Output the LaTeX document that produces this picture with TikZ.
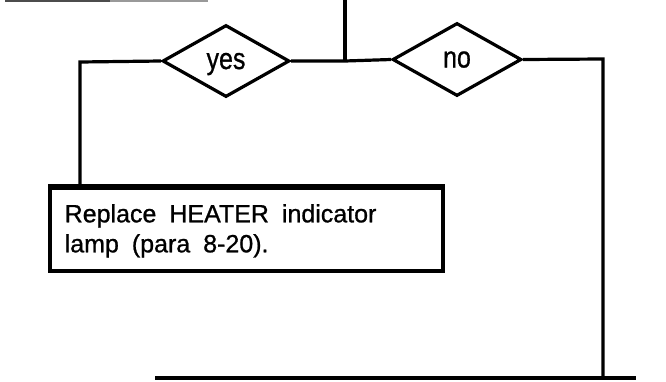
\documentclass[tikz,border=0pt]{standalone}
\usepackage{fontspec}
\usepackage{graphicx}
\setmainfont{Liberation Sans}[FakeBold=0.9]
\usetikzlibrary{shapes.geometric}
\newcommand{\widewords}{\spaceskip=13pt plus 2pt minus 2pt\relax}
\newcommand{\tallword}[1]{\scalebox{1}[1.2]{#1}}
\begin{document}
\begin{tikzpicture}[x=1pt,y=-1pt,
  line/.style={line width=3.2pt},
  decision/.style={diamond, draw, line width=3.2pt, inner sep=0pt,
     text height=16pt, text depth=0pt,
     font=\fontsize{25}{30}\selectfont},
  actionbox/.style={draw, line width=3.2pt, minimum width=393pt, minimum height=83pt},
  boxtext/.style={inner sep=0pt, anchor=north west, align=left,
     font=\fontsize{25}{30}\selectfont}]
\useasboundingbox (0,0) rectangle (666,381);
% partial edge of a box cut off at the top
\coordinate (tl1) at (5,0.8);
\coordinate (tl2) at (110,0.8);
\coordinate (tl3) at (208,0.8);
\draw[line width=2pt, black!70] (tl1) -- (tl2);
\draw[line width=2pt, black!40] (tl2) -- (tl3);
% nodes
\node[decision, minimum width=127pt, minimum height=72pt] (yes) at (226,61) {\tallword{yes}};
\node[decision, minimum width=129pt, minimum height=73pt] (no) at (457,59.5) {\tallword{no}};
\node[actionbox] (box) at (246.5,229.5) {};
\node[boxtext] (txt) at (64.5,204) {\widewords Replace HEATER indicator\\\widewords lamp (para 8-20).};
\draw[line width=5pt] (box.north west) -- (box.north east);
\coordinate (top) at (345,0);
\coordinate (junc) at (345,61);
\coordinate (lcorner) at (80,62);
\coordinate (lend) at (80,188);
\coordinate (rcorner) at (603,59);
\coordinate (rend) at (603,378);
\coordinate (b1) at (155,378);
\coordinate (b2) at (636,378);
% connectors
\draw[line] (top) -- (junc);
\draw[line] (yes.east) -- (junc) -- (no.west);
\draw[line] (yes.west) -- (lcorner) -- (lend);
\draw[line] (no.east) -- (rcorner) -- (rend);
\draw[line] (b1) -- (b2);
\end{tikzpicture}
\end{document}
